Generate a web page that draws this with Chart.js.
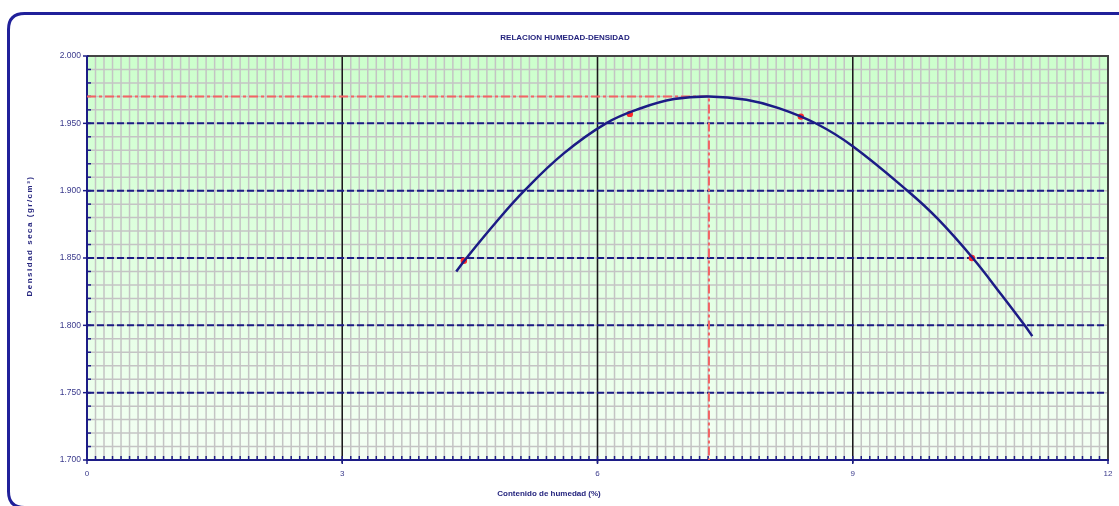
<!DOCTYPE html>
<html>
<head>
<meta charset="utf-8">
<script src="https://cdn.jsdelivr.net/npm/chart.js@4/dist/chart.umd.min.js"></script>
<style>
  html, body { margin: 0; padding: 0; background: #ffffff; overflow: hidden; }
  #wrap { position: relative; width: 1119px; height: 506px; }
</style>
</head>
<body>
<div id="wrap"><canvas id="c" width="1119" height="506"></canvas></div>
<script>
// Axis tick values
const xTicks = [0, 3, 6, 9, 12];
const yTicks = [1.700, 1.750, 1.800, 1.850, 1.900, 1.950, 2.000];
const xMinorStep = 0.1;
const yMinorStep = 0.01;

// Proctor test results: moisture content (%) and dry density (gr/cm3)
const moistureTests = [4.43, 6.38, 8.39, 10.40];
const densityTests = [1.848, 1.957, 1.955, 1.850];

// Compaction curve through the test results
const curveMoisture = [4.34, 4.46, 4.80, 5.14, 5.60, 6.10, 6.50, 6.90, 7.31, 7.75, 8.13, 8.58, 9.00, 9.66, 10.00, 10.41, 10.75, 11.02, 11.11];
const curveDensity  = [1.840, 1.850, 1.876, 1.900, 1.9275, 1.950, 1.961, 1.968, 1.970, 1.9675, 1.9613, 1.9495, 1.933, 1.899, 1.879, 1.850, 1.8225, 1.800, 1.792];

// Optimum moisture content and maximum dry density
const optimumMoisture = 7.31;
const maxDryDensity = 1.970;

const FONT = 'Liberation Sans, Arial, sans-serif';
const NAVY = '#1c1c86';
const LABEL = '#3a3a8c';

function pts(xs, ys) { return xs.map((v, i) => ({ x: v, y: ys[i] })); }

function roundRectPath(ctx, x, y, w, h, r) {
  ctx.beginPath();
  ctx.moveTo(x + r, y);
  ctx.lineTo(x + w - r, y);
  ctx.quadraticCurveTo(x + w, y, x + w, y + r);
  ctx.lineTo(x + w, y + h - r);
  ctx.quadraticCurveTo(x + w, y + h, x + w - r, y + h);
  ctx.lineTo(x + r, y + h);
  ctx.quadraticCurveTo(x, y + h, x, y + h - r);
  ctx.lineTo(x, y + r);
  ctx.quadraticCurveTo(x, y, x + r, y);
  ctx.closePath();
}

function line(ctx, x1, y1, x2, y2) {
  ctx.beginPath(); ctx.moveTo(x1, y1); ctx.lineTo(x2, y2); ctx.stroke();
}

// Frame, graph-paper background, grid, axis lines, tick marks and titles
const paper = {
  id: 'paper',
  beforeDraw(chart) {
    const { ctx, chartArea: a, scales: { x, y } } = chart;
    ctx.save();

    // outer rounded frame
    ctx.strokeStyle = '#20209a';
    ctx.lineWidth = 3;
    roundRectPath(ctx, 8.5, 13.5, 1135, 494, 16);
    ctx.stroke();

    // plot background
    const g = ctx.createLinearGradient(0, a.top, 0, a.bottom);
    g.addColorStop(0, '#ccffcc');
    g.addColorStop(1, '#f4fff4');
    ctx.fillStyle = g;
    ctx.fillRect(a.left, a.top, a.right - a.left, a.bottom - a.top);

    // minor grid
    ctx.strokeStyle = '#c4c4c4';
    ctx.lineWidth = 1.5;
    const nx = Math.round((x.max - x.min) / xMinorStep);
    for (let i = 1; i < nx; i++) {
      const px = x.getPixelForValue(x.min + i * xMinorStep);
      line(ctx, px, a.top, px, a.bottom);
    }
    const ny = Math.round((y.max - y.min) / yMinorStep);
    for (let i = 1; i < ny; i++) {
      const py = y.getPixelForValue(y.min + i * yMinorStep);
      line(ctx, a.left, py, a.right, py);
    }

    // major vertical lines
    ctx.strokeStyle = '#1a1a1a';
    ctx.lineWidth = 1.5;
    xTicks.slice(1, -1).forEach(v => {
      const px = x.getPixelForValue(v);
      line(ctx, px, a.top, px, a.bottom + 3);
    });

    // major horizontal lines (dashed)
    ctx.strokeStyle = NAVY;
    ctx.lineWidth = 2;
    ctx.setLineDash([7, 3]);
    yTicks.slice(1, -1).forEach(v => {
      const py = y.getPixelForValue(v);
      line(ctx, a.left, py, a.right, py);
    });
    ctx.setLineDash([]);

    // top and right borders
    ctx.strokeStyle = '#444444';
    ctx.lineWidth = 2;
    line(ctx, a.left, a.top, a.right + 1, a.top);
    line(ctx, a.right, a.top, a.right, a.bottom);

    // axis lines
    ctx.strokeStyle = NAVY;
    ctx.lineWidth = 2;
    line(ctx, a.left, a.top, a.left, a.bottom + 1);
    line(ctx, a.left - 1, a.bottom, a.right + 1, a.bottom);

    // tick marks
    ctx.lineWidth = 1.5;
    for (let i = 1; i < nx; i++) {
      const px = x.getPixelForValue(x.min + i * xMinorStep);
      line(ctx, px, a.bottom, px, a.bottom - 4);
    }
    xTicks.forEach(v => {
      const px = x.getPixelForValue(v);
      line(ctx, px, a.bottom, px, a.bottom + 4);
    });
    for (let i = 1; i < ny; i++) {
      const py = y.getPixelForValue(y.min + i * yMinorStep);
      line(ctx, a.left, py, a.left + 4, py);
    }
    yTicks.forEach(v => {
      const py = y.getPixelForValue(v);
      line(ctx, a.left - 4, py, a.left + 2, py);
    });

    // titles
    ctx.fillStyle = '#24247e';
    ctx.font = 'bold 8px ' + FONT;
    ctx.textAlign = 'center';
    ctx.textBaseline = 'middle';
    ctx.fillText('RELACION HUMEDAD-DENSIDAD', 565, 38);
    ctx.fillText('Contenido de humedad (%)', 549, 494);
    ctx.translate(30, 236);
    ctx.rotate(-Math.PI / 2);
    ctx.letterSpacing = '1.5px';
    ctx.fillText('Densidad seca (gr/cm³)', 0, 0);

    ctx.restore();
  }
};

new Chart(document.getElementById('c'), {
  type: 'line',
  data: {
    datasets: [
      {
        label: 'Curva de compactación',
        data: pts(curveMoisture, curveDensity),
        borderColor: NAVY,
        borderWidth: 2.5,
        pointRadius: 0,
        fill: false,
        tension: 0.4,
        order: 0
      },
      {
        label: 'Ensayos',
        data: pts(moistureTests, densityTests),
        showLine: false,
        pointRadius: 3.2,
        pointBackgroundColor: '#ff2a2a',
        pointBorderWidth: 0,
        order: 1
      },
      {
        label: 'Óptimo',
        data: [
          { x: xTicks[0], y: maxDryDensity },
          { x: optimumMoisture, y: maxDryDensity },
          { x: optimumMoisture, y: yTicks[0] }
        ],
        borderColor: '#f26464',
        borderWidth: 2,
        borderDash: [9, 3, 3, 3],
        pointRadius: 0,
        tension: 0,
        fill: false,
        order: 2
      }
    ]
  },
  options: {
    responsive: false,
    animation: false,
    devicePixelRatio: 1,
    layout: { padding: { left: 0, right: 11, top: 56, bottom: 0 } },
    plugins: { legend: { display: false }, tooltip: { enabled: false }, title: { display: false } },
    scales: {
      x: {
        type: 'linear',
        min: xTicks[0],
        max: xTicks[xTicks.length - 1],
        afterBuildTicks: s => { s.ticks = xTicks.map(v => ({ value: v })); },
        afterFit: s => { s.height = 46; s.paddingLeft = 0; s.paddingRight = 0; },
        grid: { display: false, drawTicks: false },
        border: { display: false },
        ticks: {
          padding: 9,
          color: LABEL,
          font: { size: 8, family: FONT },
          maxRotation: 0,
          autoSkip: false,
          callback: v => String(v)
        }
      },
      y: {
        type: 'linear',
        min: yTicks[0],
        max: yTicks[yTicks.length - 1],
        afterBuildTicks: s => { s.ticks = yTicks.map(v => ({ value: v })); },
        afterFit: s => { s.width = 87; s.paddingTop = 0; s.paddingBottom = 0; },
        grid: { display: false, drawTicks: false },
        border: { display: false },
        ticks: {
          padding: 6,
          color: LABEL,
          font: { size: 8.5, family: FONT },
          autoSkip: false,
          callback: v => Number(v).toFixed(3)
        }
      }
    }
  },
  plugins: [paper]
});
</script>
</body>
</html>
